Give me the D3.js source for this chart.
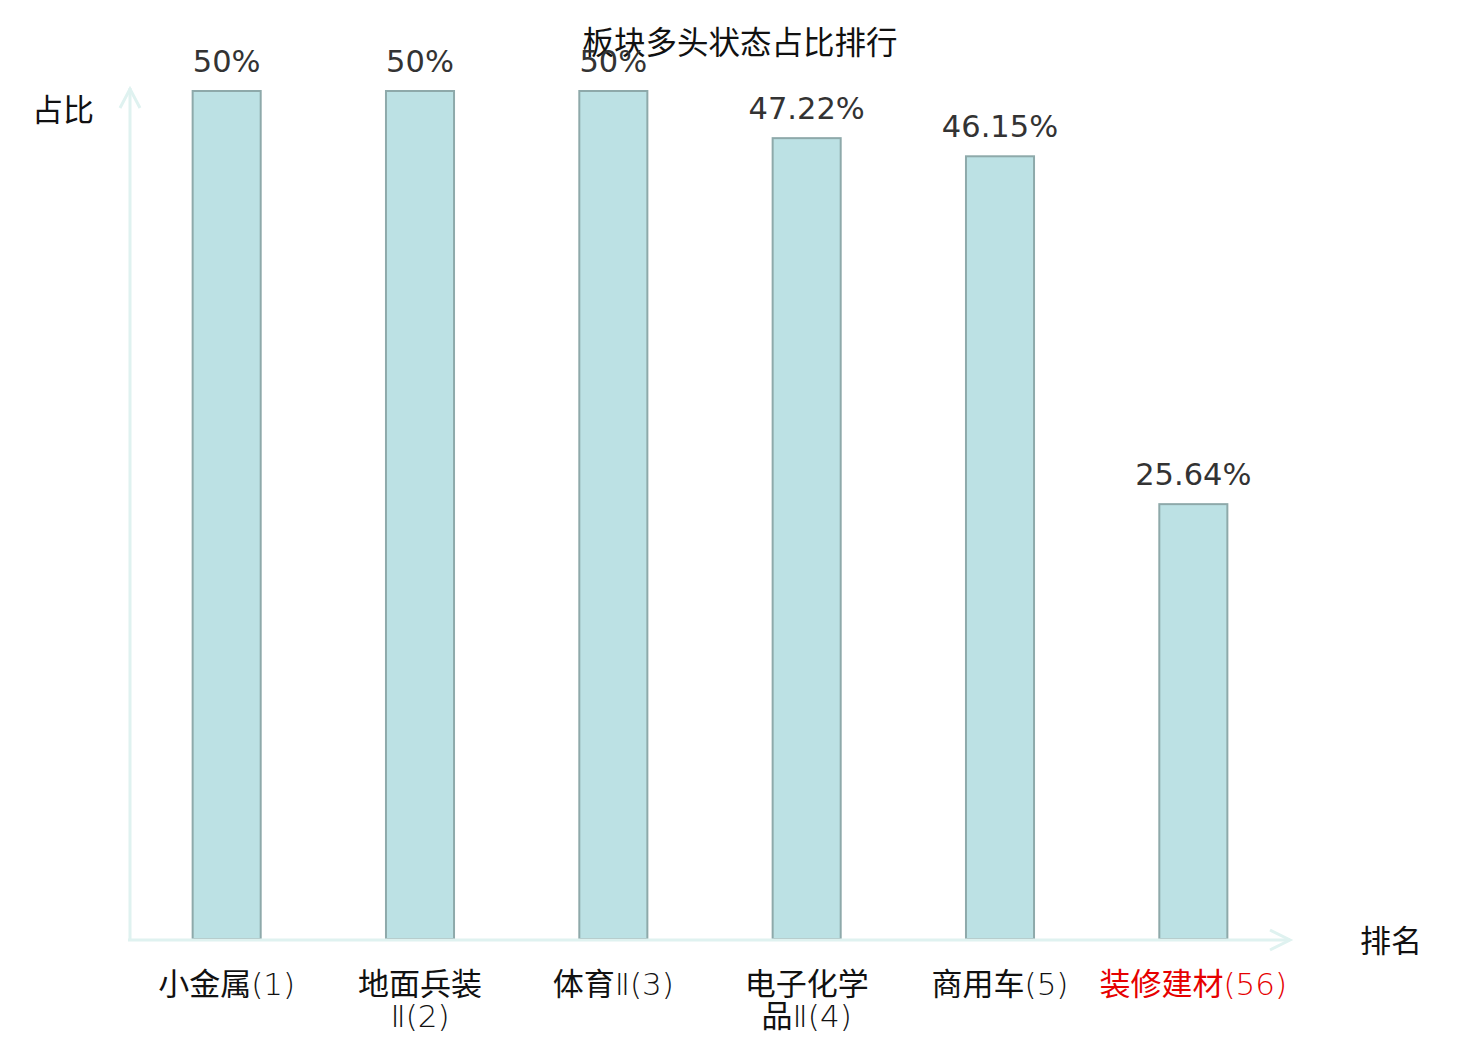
<!DOCTYPE html>
<html>
<head>
<meta charset="utf-8">
<script src="https://cdn.jsdelivr.net/npm/d3@7/dist/d3.min.js"></script>
<style>
  body { margin: 0; background: #fff; }
  svg { display: block; }
</style>
</head>
<body>
<div id="chart"></div>
<script>
// data
var names = ["小金属", "地面兵装Ⅱ", "体育Ⅱ", "电子化学品Ⅱ", "商用车", "装修建材"]
var ranks = [1, 2, 3, 4, 5, 56]
var values = [50, 50, 50, 47.22, 46.15, 25.64]
var labels = ["50%", "50%", "50%", "47.22%", "46.15%", "25.64%"]
var highlight = 5   // index of the red label

var width = 1480, height = 1040
var x0 = 130, x1 = 1290, y0 = 939, yTop = 91

var svg = d3.select("#chart").append("svg")
            .attr("width", width)
            .attr("height", height)

var x = d3.scaleBand()
          .domain(names)
          .range([x0, x1])
          .paddingInner(0.648)
          .paddingOuter(0.324)

var y = d3.scaleLinear()
          .domain([0, d3.max(values)])
          .range([y0, yTop])

var cjk = "'Noto Sans CJK SC', 'Noto Sans', sans-serif"
var thin = "'DejaVu Sans', 'Noto Sans CJK SC', sans-serif"
var axisColor = "#dff2f0"

// title
svg.append("text")
   .attr("x", 740).attr("y", 54)
   .attr("text-anchor", "middle")
   .attr("font-family", cjk)
   .attr("font-size", 31.5)
   .attr("fill", "#111")
   .text("板块多头状态占比排行")

// bars
svg.selectAll("rect.bar")
   .data(values)
   .enter().append("rect")
   .attr("class", "bar")
   .attr("x", (d, i) => x(names[i]))
   .attr("y", d => y(d))
   .attr("width", x.bandwidth())
   .attr("height", d => y0 - y(d))
   .attr("fill", "#bce1e4")
   .attr("stroke", "#8ea9aa")
   .attr("stroke-width", 2)

// axes with arrow heads
svg.append("line")
   .attr("x1", x0).attr("y1", y0 + 1)
   .attr("x2", x0).attr("y2", 88)
   .attr("stroke", axisColor).attr("stroke-width", 3)
svg.append("path")
   .attr("d", "M" + (x0 - 10) + "," + 108 + "L" + x0 + "," + 89 + "L" + (x0 + 10) + "," + 108)
   .attr("fill", "none").attr("stroke", axisColor).attr("stroke-width", 3)
svg.append("line")
   .attr("x1", x0 - 2).attr("y1", y0 + 1)
   .attr("x2", x1).attr("y2", y0 + 1)
   .attr("stroke", axisColor).attr("stroke-width", 3)
svg.append("path")
   .attr("d", "M" + (x1 - 20) + "," + (y0 - 9) + "L" + x1 + "," + (y0 + 1) + "L" + (x1 - 20) + "," + (y0 + 11))
   .attr("fill", "none").attr("stroke", axisColor).attr("stroke-width", 3)

// axis names
svg.append("text")
   .attr("x", 63).attr("y", 121)
   .attr("text-anchor", "middle")
   .attr("font-family", cjk).attr("font-size", 31).attr("fill", "#111")
   .text("占比")
svg.append("text")
   .attr("x", 1391).attr("y", 952)
   .attr("text-anchor", "middle")
   .attr("font-family", cjk).attr("font-size", 31).attr("fill", "#111")
   .text("排名")

// value labels
svg.selectAll("text.val")
   .data(values)
   .enter().append("text")
   .attr("class", "val")
   .attr("x", (d, i) => x(names[i]) + x.bandwidth() / 2)
   .attr("y", d => y(d) - 19)
   .attr("text-anchor", "middle")
   .attr("font-family", "'DejaVu Sans', sans-serif")
   .attr("font-size", 30.5)
   .attr("fill", "#333")
   .text((d, i) => labels[i])

// category labels, long names broken after 4 chars
// CJK part in regular weight, the rest (Ⅱ and the rank) in a thin face
svg.selectAll("g.cat")
   .data(names)
   .enter().append("g")
   .attr("class", "cat")
   .attr("font-size", 31)
   .attr("text-anchor", "middle")
   .attr("fill", (d, i) => i == highlight ? "#e60000" : "#111")
   .each(function(d, i) {
      var full = d + "(" + ranks[i] + ")"
      var lines = d.length > 4 ? [full.slice(0, 4), full.slice(4)] : [full]
      var g = d3.select(this)
      lines.forEach((ln, k) => {
        var m = ln.match(/^([\u4e00-\u9fff]*)(.*)$/)
        var line = g.append("text")
                    .attr("x", x(d) + x.bandwidth() / 2)
                    .attr("y", 995 + k * 32)
        if (m[1]) line.append("tspan").attr("font-family", cjk).text(m[1])
        if (m[2]) line.append("tspan").attr("font-family", thin).attr("font-weight", 200).text(m[2])
      })
   })
</script>
</body>
</html>
